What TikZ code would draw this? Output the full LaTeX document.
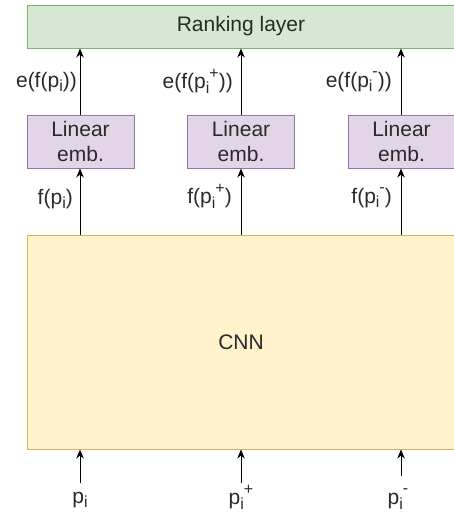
\documentclass[tikz,border=0pt]{standalone}
\usepackage{fontspec}
\setmainfont{Liberation Sans}
\usetikzlibrary{arrows.meta}
\definecolor{rankfill}{HTML}{D5E8D4}
\definecolor{rankdraw}{HTML}{82B366}
\definecolor{linfill}{HTML}{E1D5E7}
\definecolor{lindraw}{HTML}{9673A6}
\definecolor{cnnfill}{HTML}{FFF2CC}
\definecolor{cnndraw}{HTML}{D6B656}
\definecolor{txt}{HTML}{2A2A2A}
\newcommand{\subx}[1]{\raisebox{-0.22em}{\fontsize{16}{16}\selectfont #1}}
\newcommand{\supx}[1]{\raisebox{0.5em}{\fontsize{16}{16}\selectfont #1}}
\tikzset{
  box/.style={rectangle, line width=1pt, inner sep=0pt, align=center, text=txt,
    font=\fontsize{21}{25}\selectfont},
  rankbox/.style={box, fill=rankfill, draw=rankdraw, minimum width=428pt, minimum height=43pt},
  linbox/.style={box, fill=linfill, draw=lindraw, minimum width=107pt, minimum height=53pt},
  cnnbox/.style={box, fill=cnnfill, draw=cnndraw, minimum width=428pt, minimum height=214pt},
  lbl/.style={inner sep=0pt, text=txt, font=\fontsize{21}{25}\selectfont},
  arr/.style={line width=1pt, -{Stealth[length=9pt,width=7.5pt]}}
}
\begin{document}
\begin{tikzpicture}[x=1pt,y=-1pt]
\useasboundingbox (0,0) rectangle (454,514);
\clip (0,0) rectangle (454,514);
\node[rankbox] (rank) at (241,26.5) {Ranking layer};
\node[linbox] (lin1) at (80.5,141.5) {Linear\\emb.};
\node[linbox] (lin2) at (241,141.5) {Linear\\emb.};
\node[linbox] (lin3) at (401.5,141.5) {Linear\\emb.};
\node[cnnbox] (cnn) at (241,342) {CNN};
% top arrows
\draw[arr] (lin1.north -| 80,0) -- (rank.south -| 80,0);
\draw[arr] (lin2.north) -- (rank.south -| lin2.north);
\draw[arr] (lin3.north -| 401,0) -- (rank.south -| 401,0);
% middle arrows
\draw[arr] (cnn.north -| 80,0) -- (lin1.south -| 80,0);
\draw[arr] (cnn.north -| lin2.south) -- (lin2.south);
\draw[arr] (cnn.north -| 401,0) -- (lin3.south -| 401,0);
% labels
\node[lbl, anchor=east] (e1) at (77,82) {e(f(p\subx{i}))};
\node[lbl, anchor=east] (e2) at (233,81) {e(f(p\subx{i}\supx{+}))};
\node[lbl, anchor=east] (e3) at (392,82) {e(f(p\subx{i}\supx{-}))};
\node[lbl, anchor=east] (f1) at (73,199) {f(p\subx{i})};
\node[lbl, anchor=east] (f2) at (232,196) {f(p\subx{i}\supx{+})};
\node[lbl, anchor=east] (f3) at (392,198) {f(p\subx{i}\supx{-})};
% bottom inputs
\node[lbl] (p1) at (80,500) {p\subx{i}};
\node[lbl] (p2) at (241,497) {p\subx{i}\supx{+}};
\node[lbl] (p3) at (398,499) {p\subx{i}\supx{-}};
\coordinate (s1) at (80,483);
\coordinate (s2) at (241,483);
\coordinate (s3) at (401,476);
\draw[arr] (s1) -- (cnn.south -| s1);
\draw[arr] (s2) -- (cnn.south -| s2);
\draw[arr] (s3) -- (cnn.south -| s3);
\end{tikzpicture}
\end{document}
